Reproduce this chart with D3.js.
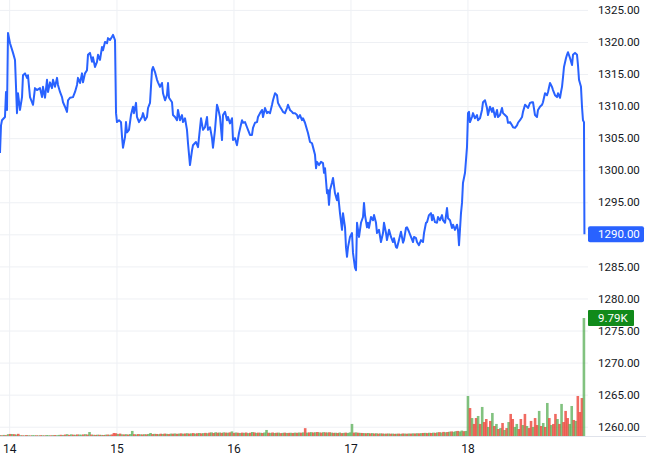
<!DOCTYPE html>
<html>
<head>
<meta charset="utf-8">
<script src="https://cdn.jsdelivr.net/npm/d3@7"></script>
<style>
  body { margin: 0; background: #fff; }
  text { font-family: Roboto, "Noto Sans", sans-serif; }
</style>
</head>
<body>
<div id="chart"></div>
<script>
// trading hours since start of the visible range, price
const priceSeries = [
  [0,1302.7],[0.2,1307.0],[0.39,1307.8],[0.98,1308.3],[1.18,1312.2],[1.38,1309.4],[1.57,1321.4],[1.97,1319.8],
  [2.56,1318.3],[2.95,1317.2],[3.34,1308.9],[3.54,1312.0],[3.93,1309.4],[4.33,1311.4],[4.52,1314.8],[4.92,1315.1],
  [5.31,1314.4],[5.5,1314.8],[5.9,1311.4],[6.29,1310.6],[6.49,1310.2],[6.88,1312.8],[7.27,1312.5],[7.86,1312.8],
  [8.26,1311.4],[8.45,1313.0],[8.85,1311.3],[9.24,1314.1],[9.44,1312.2],[9.83,1313.7],[10.22,1312.8],[10.42,1314.1],
  [10.81,1313.0],[11.21,1314.4],[11.4,1313.3],[11.8,1312.2],[12.19,1311.4],[12.39,1310.6],[12.78,1309.9],[13.17,1309.1],
  [13.37,1310.9],[13.76,1311.3],[14.35,1311.4],[14.75,1312.2],[15.14,1313.3],[15.33,1314.4],[15.73,1313.6],[16.12,1315.1],
  [16.32,1313.7],[16.71,1315.1],[17.1,1315.6],[17.3,1318.0],[17.69,1318.3],[18.09,1316.9],[18.28,1317.6],[18.68,1316.1],
  [19.07,1316.9],[19.27,1318.0],[19.66,1317.2],[20.05,1319.2],[20.25,1318.7],[20.64,1320.0],[21.04,1319.8],[21.23,1320.6],
  [21.63,1320.3],[22.02,1320.8],[22.22,1321.1],[22.61,1320.3],[22.81,1308.9],[23.0,1307.5],[23.4,1307.8],[23.79,1307.5],
  [23.99,1305.2],[24.18,1303.5],[24.58,1305.2],[24.77,1307.5],[24.97,1305.9],[25.36,1306.3],[25.75,1308.6],[26.15,1309.9],
  [26.34,1308.9],[26.74,1310.5],[26.93,1308.3],[27.33,1307.5],[27.92,1308.3],[28.11,1308.9],[28.51,1307.8],[28.9,1308.3],
  [29.1,1309.7],[29.49,1310.5],[29.88,1315.6],[30.08,1316.1],[30.47,1315.3],[30.87,1314.1],[31.06,1313.7],[31.46,1313.0],
  [31.85,1313.6],[32.05,1312.0],[32.44,1310.9],[32.83,1311.7],[33.03,1313.6],[33.23,1311.3],[33.82,1310.6],[34.01,1308.6],
  [34.41,1308.3],[34.8,1307.8],[34.99,1309.4],[35.39,1307.8],[35.78,1308.6],[35.98,1307.5],[36.37,1308.1],[36.76,1306.3],
  [36.96,1304.2],[37.35,1300.8],[37.75,1303.1],[37.94,1303.9],[38.53,1304.4],[38.93,1303.6],[39.52,1308.1],[39.91,1306.3],
  [40.3,1306.7],[40.7,1308.3],[40.89,1306.3],[41.29,1306.7],[41.68,1305.0],[41.87,1303.5],[42.27,1306.3],[42.66,1310.2],
  [42.86,1309.7],[43.25,1308.3],[43.65,1304.7],[43.84,1308.6],[44.24,1309.1],[44.63,1307.8],[44.82,1308.3],[45.22,1307.3],
  [45.61,1308.1],[45.81,1304.7],[46.2,1305.0],[46.59,1303.9],[46.99,1305.8],[47.58,1307.8],[47.77,1307.4],[48.17,1307.5],
  [48.56,1306.7],[48.76,1306.3],[49.15,1305.5],[49.54,1305.5],[49.74,1306.6],[50.13,1307.4],[50.53,1307.5],[50.72,1308.3],
  [51.12,1308.9],[51.51,1309.4],[51.71,1308.3],[52.1,1309.7],[52.49,1308.9],[52.69,1309.1],[53.08,1308.9],[53.48,1310.2],
  [53.67,1310.9],[54.07,1312.0],[54.46,1311.7],[54.65,1310.5],[55.05,1309.9],[55.44,1309.4],[55.64,1309.1],[56.03,1308.9],
  [56.42,1309.7],[56.62,1310.2],[57.01,1309.4],[57.41,1309.1],[57.6,1308.9],[58.0,1308.9],[58.39,1308.6],[58.59,1308.1],
  [58.98,1308.6],[59.37,1307.8],[59.57,1308.1],[59.96,1307.4],[60.36,1306.3],[60.55,1305.8],[60.95,1304.4],[61.34,1304.2],
  [61.54,1303.6],[61.93,1302.4],[62.13,1300.3],[62.32,1301.3],[62.72,1300.8],[63.11,1301.3],[63.5,1301.1],[63.7,1299.6],
  [63.9,1300.3],[64.29,1296.4],[64.48,1296.9],[64.68,1294.6],[64.88,1296.9],[65.27,1298.1],[65.47,1298.8],[65.86,1296.4],
  [66.25,1295.3],[66.45,1296.4],[66.84,1293.3],[67.24,1290.7],[67.43,1293.3],[67.83,1291.1],[68.02,1288.0],[68.22,1286.5],
  [68.42,1288.0],[68.81,1289.6],[69.2,1290.2],[69.4,1287.1],[69.79,1284.8],[69.99,1284.4],[70.19,1291.8],[70.58,1289.6],
  [70.97,1291.8],[71.37,1292.7],[71.56,1294.9],[71.76,1293.0],[72.15,1291.1],[72.35,1291.8],[72.54,1291.0],[72.94,1292.7],
  [73.33,1292.2],[73.53,1293.0],[73.92,1291.8],[74.12,1290.2],[74.51,1290.7],[74.9,1288.8],[75.3,1290.2],[75.49,1291.8],
  [75.89,1290.2],[76.08,1289.1],[76.48,1290.7],[76.87,1289.6],[77.26,1288.8],[77.46,1289.4],[77.85,1288.0],[78.05,1287.9],
  [78.44,1289.1],[78.83,1290.4],[79.23,1288.7],[79.42,1289.1],[79.82,1291.0],[80.01,1291.1],[80.41,1290.4],[80.8,1289.6],
  [81.2,1288.8],[81.39,1289.6],[81.79,1289.4],[81.98,1288.8],[82.37,1288.3],[82.77,1289.1],[83.16,1288.8],[83.36,1290.2],
  [83.75,1291.8],[83.95,1291.9],[84.34,1293.0],[84.73,1293.3],[84.93,1292.2],[85.13,1293.0],[85.52,1291.9],[85.91,1291.8],
  [86.11,1292.7],[86.5,1292.2],[86.9,1293.0],[87.09,1292.2],[87.49,1291.8],[87.88,1294.1],[88.08,1292.5],[88.47,1292.2],
  [88.86,1291.0],[89.06,1291.5],[89.45,1290.7],[89.85,1291.5],[90.04,1290.7],[90.24,1288.3],[90.63,1293.3],[90.83,1294.9],
  [91.02,1298.0],[91.42,1299.6],[91.81,1303.6],[92.01,1308.9],[92.2,1309.1],[92.4,1307.5],[92.79,1308.3],[92.99,1308.9],
  [93.38,1308.1],[93.78,1308.6],[93.97,1307.8],[94.37,1308.1],[94.76,1309.4],[94.96,1310.6],[95.35,1310.9],[95.74,1309.7],
  [95.94,1308.6],[96.33,1309.9],[96.73,1309.1],[96.92,1309.7],[97.32,1308.3],[97.71,1309.4],[97.91,1308.3],[98.3,1308.6],
  [98.69,1309.7],[98.89,1308.9],[99.28,1308.6],[99.68,1308.3],[99.87,1307.4],[100.27,1307.5],[100.66,1307.0],[100.86,1306.7],
  [101.25,1306.6],[101.64,1307.0],[101.84,1307.4],[102.23,1307.8],[102.63,1308.3],[102.82,1309.1],[103.22,1310.2],[103.61,1309.9],
  [103.8,1309.7],[104.2,1310.5],[104.59,1310.6],[104.79,1310.6],[105.18,1308.6],[105.57,1308.3],[105.77,1309.4],[106.16,1309.9],
  [106.56,1310.2],[106.75,1310.6],[107.15,1312.0],[107.54,1311.7],[107.74,1312.2],[108.13,1313.6],[108.52,1313.0],[108.72,1312.5],
  [109.11,1311.7],[109.51,1311.4],[109.7,1312.0],[110.1,1311.3],[110.29,1312.2],[110.49,1313.0],[110.69,1314.5],[110.88,1316.1],
  [111.28,1317.5],[111.47,1318.0],[111.67,1318.4],[112.06,1317.5],[112.46,1316.4],[112.65,1318.0],[113.05,1318.3],[113.44,1318.0],
  [113.63,1316.4],[113.83,1314.1],[114.22,1313.0],[114.42,1309.9],[114.61,1307.8],[114.81,1307.5],[114.9,1290.0]
];
const lastPrice = 1290.0;

// volume per 0.4h bar; negative = down bar (red)
const volumeStep = 0.4;
const volumes = [
  80,-60,90,-70,150, -170,160,-150,120,-180, 70,-60,50,-80,60, -50,70,60,-60,50,
  -70,60,-50,80,60, -60,70,-80,60,90, -100,80,-120,150,-90, 140,-110,100,-130,120,
  110,-130,150,-120,330, -120,100,-90,110,-100, 90,-80,110,-120,100, -130,-250,-230,160,-200,
  140,-130,150,-120,160, 420,-150,130,-160,140, -130,150,-140,170,250, -160,180,-170,150,-190,
  170,-200,180,-160,200, -190,210,-180,200,-220, 190,-210,230,-200,220, -240,200,-230,250,-220,
  240,-260,230,-280,300, -250,310,-270,290,-260, 300,-280,270,-300,380, -260,290,-270,250,-280,
  260,-290,240,-270,330, -300,260,-280,270,-250, 290,500,-270,260,-290, 250,-270,280,-240,260,
  -280,250,-260,270,-250, 280,-260,290,-270,300, -650,280,-300,320,-290, 310,-330,300,-280,320,
  -300,290,-310,280,-260, 270,-250,290,-240,260, -280,250,300,1000,-280, 300,-270,260,-250,240,
  -230,250,-220,240,-210, 230,-200,220,-210,190, -200,210,-190,200,-180, 190,-200,180,-210,200,
  -190,210,-200,220,-210, 230,-220,240,-250,260, -240,270,-250,280,-260, 300,-320,290,-340,310,
  -330,360,-380,350,400, -420,380,450,-400,420,
  3320,-2320,1490,-1000,-1490, 1660,-1000,2410,-1160,-1410, 750,-1250,1910,-830,1000,
  -580,660,-1080,500,-660, 1160,-1830,-1410,750,1000, -580,-1410,910,-1830,830,
  -660,-1250,750,-1490,-910, 2080,-830,1080,-750,2740, -1490,910,-1000,-1830,1410,
  -1000,2660,-1160,-2080,-1490, 1000,2490,-1330,1250,-3320, -1990,-3150,9790
];

const dayTicks = [1.8, 22.9, 45.9, 68.9, 91.9];
const dayLabels = ["14", "15", "16", "17", "18"];
const priceTicks = d3.range(1260, 1326, 5);

const W = 646, H = 458;
const plotRight = 588, plotBottom = 436;

const svg = d3.select("#chart").append("svg")
  .attr("width", W).attr("height", H);

const x = d3.scaleLinear().domain([0, 115.6]).range([0, plotRight]);
const y = d3.scaleLinear().domain([1260, 1325]).range([426.7, 9.9]);
const maxVol = d3.max(volumes, v => Math.abs(v));
const yv = d3.scaleLinear().domain([0, maxVol]).range([plotBottom, 318]);

// grid
svg.append("g")
  .call(d3.axisBottom(x).tickValues(dayTicks).tickSize(plotBottom).tickFormat(""))
  .call(g => g.select(".domain").remove())
  .call(g => g.selectAll("line").attr("stroke", "#eef0f4"));

svg.append("g")
  .attr("transform", `translate(${plotRight},0)`)
  .call(d3.axisLeft(y).tickValues(priceTicks).tickSize(plotRight).tickFormat(""))
  .call(g => g.select(".domain").remove())
  .call(g => g.selectAll("line").attr("stroke", "#eef0f4"));

// volume
svg.append("g").selectAll("rect")
  .data(volumes)
  .join("rect")
    .attr("x", (d, i) => x(i * volumeStep) - 1.3)
    .attr("width", 2.6)
    .attr("y", d => yv(Math.abs(d)))
    .attr("height", d => plotBottom - yv(Math.abs(d)))
    .attr("fill", d => d >= 0 ? "rgba(76,168,72,0.7)" : "rgba(236,64,52,0.78)");

// price line
const line = d3.line().x(d => x(d[0])).y(d => y(d[1]));
svg.append("path")
  .datum(priceSeries)
  .attr("d", line)
  .attr("fill", "none")
  .attr("stroke", "#2962ff")
  .attr("stroke-width", 2)
  .attr("stroke-linejoin", "round");

// bottom border
svg.append("line")
  .attr("x1", 0).attr("x2", W)
  .attr("y1", plotBottom + 0.5).attr("y2", plotBottom + 0.5)
  .attr("stroke", "#e0e3eb");

// price axis
svg.append("g")
  .attr("transform", `translate(${plotRight},0)`)
  .call(d3.axisRight(y).tickValues(priceTicks).tickSize(0).tickPadding(10).tickFormat(d3.format(".2f")))
  .call(g => g.select(".domain").remove())
  .call(g => g.selectAll("text").attr("fill", "#131722").style("font-size", "11.5px"));

// time axis
svg.append("g")
  .attr("transform", `translate(0,${plotBottom})`)
  .call(d3.axisBottom(x).tickValues(dayTicks).tickSize(0).tickPadding(8)
    .tickFormat((d, i) => dayLabels[i]))
  .call(g => g.select(".domain").remove())
  .call(g => g.selectAll("text").attr("fill", "#131722").style("font-size", "12px"));

// last price label
svg.append("rect")
  .attr("x", plotRight).attr("y", y(lastPrice) - 8)
  .attr("width", 56).attr("height", 16).attr("rx", 2)
  .attr("fill", "#2962ff");
svg.append("text")
  .attr("x", plotRight + 10).attr("y", y(lastPrice))
  .attr("dy", "0.35em")
  .attr("fill", "#fff").style("font-size", "11.5px")
  .text(d3.format(".2f")(lastPrice));

// last volume label
const lastVol = volumes[volumes.length - 1];
svg.append("rect")
  .attr("x", plotRight).attr("y", yv(Math.abs(lastVol)) - 8)
  .attr("width", 46).attr("height", 16).attr("rx", 1)
  .attr("fill", "#118a1a");
svg.append("text")
  .attr("x", plotRight + 10).attr("y", yv(Math.abs(lastVol)))
  .attr("dy", "0.35em")
  .attr("fill", "#fff").style("font-size", "11.5px")
  .text(d3.format(".3~s")(Math.abs(lastVol)).replace("k", "K"));
</script>
</body>
</html>
